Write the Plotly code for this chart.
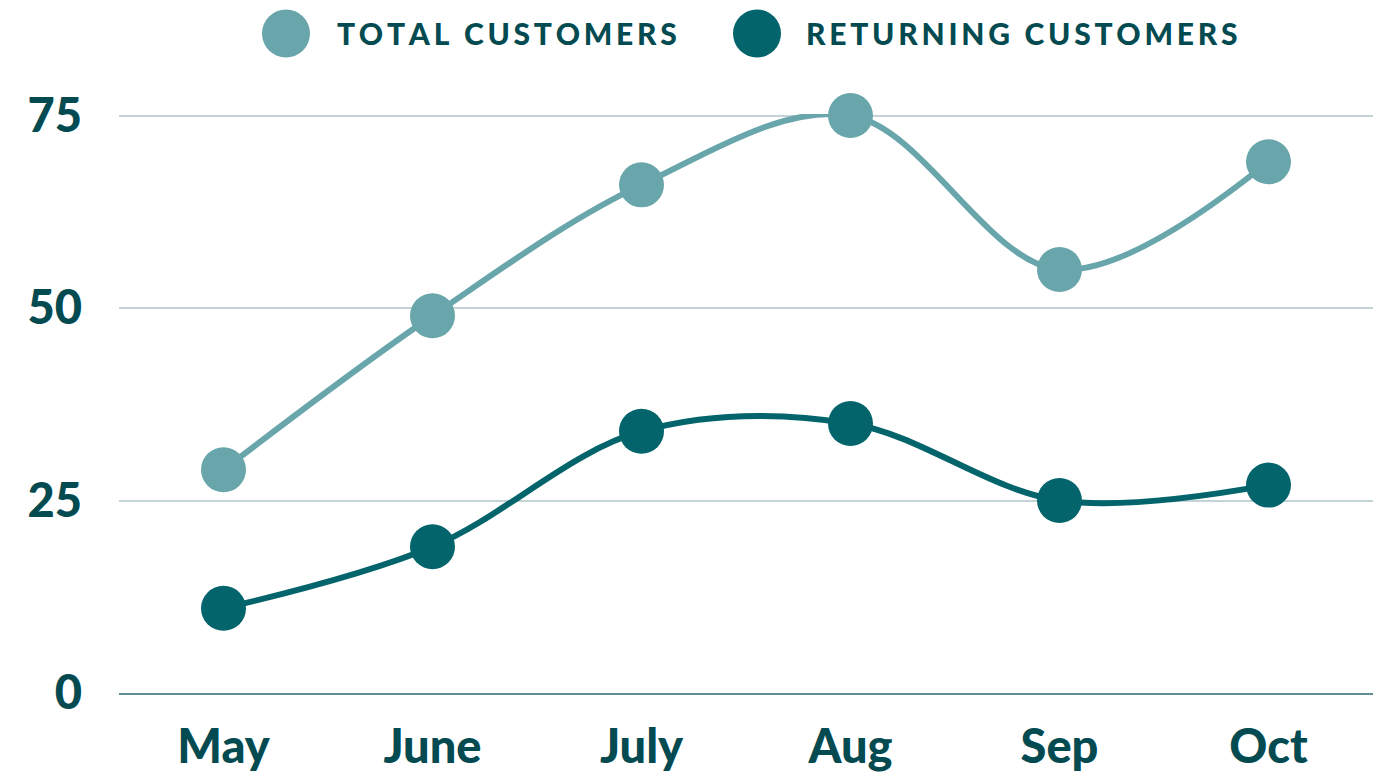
import plotly.graph_objects as go

months = ["May", "June", "July", "Aug", "Sep", "Oct"]
total_customers = [29, 49, 66, 75, 55, 69]
returning_customers = [11, 19, 34, 35, 25, 27]
y_ticks = [0, 25, 50, 75]

LIGHT = "#68a6ab"
DARK = "#03646b"
TEXT = "#034a51"
FONT = "Lato"

# the page body adds an 8px offset; compensate so the picture lands where intended
OFF = 8
W, H = 1384, 775
L = 119 - OFF
R = W - (1373 - OFF)
B = H - (693 - OFF)
YMAX = 75.2
unit = (693 - 116) / 75.0
T = H - B - YMAX * unit
pw, ph = W - L - R, H - T - B

def px(x):
    return (x - OFF - L) / pw

def py(y):
    return (H - B - (y - OFF)) / ph

fig = go.Figure()
for name, vals, col in [("TOTAL CUSTOMERS", total_customers, LIGHT),
                        ("RETURNING CUSTOMERS", returning_customers, DARK)]:
    fig.add_trace(go.Scatter(
        x=months, y=vals, name=name, mode="lines+markers",
        line=dict(color=col, width=6, shape="spline", smoothing=1),
        marker=dict(color=col, size=45),
        cliponaxis=False, showlegend=False,
    ))

def spaced(s):
    return "\u2009".join(list(s))

shapes = []
annotations = []
for cx, tx, name, col in [(286, 335, "TOTAL CUSTOMERS", LIGHT),
                          (757, 804, "RETURNING CUSTOMERS", DARK)]:
    shapes.append(dict(type="circle", xref="paper", yref="paper",
                       xsizemode="pixel", ysizemode="pixel",
                       xanchor=px(cx), yanchor=py(34),
                       x0=-24, x1=24, y0=-24, y1=24,
                       fillcolor=col, line=dict(width=0)))
    annotations.append(dict(xref="paper", yref="paper", x=px(tx), y=py(34),
                            xanchor="left", yanchor="middle", showarrow=False,
                            text=spaced(name),
                            font=dict(family=FONT, size=30, color=TEXT, weight=900)))

fig.update_layout(
    width=W, height=H,
    margin=dict(l=L, r=R, t=T, b=B, pad=0, autoexpand=False),
    paper_bgcolor="white", plot_bgcolor="white",
    shapes=shapes, annotations=annotations,
    font=dict(family=FONT, color=TEXT),
    xaxis=dict(
        type="category", range=[-0.5, 5.5], showgrid=False, automargin=False,
        showline=True, linecolor="#5f8e93", linewidth=2,
        tickfont=dict(family=FONT, size=47, color=TEXT, weight=900),
        ticks="", ticklabelstandoff=12, zeroline=False,
    ),
    yaxis=dict(
        range=[0, YMAX], tickvals=y_ticks, showgrid=True, automargin=False,
        gridcolor="#c3d3d6", gridwidth=1.5, zeroline=False, showline=False,
        tickfont=dict(family=FONT, size=47, color=TEXT, weight=900),
        ticks="", ticklabelstandoff=36,
    ),
)

fig.write_html("out.html")
